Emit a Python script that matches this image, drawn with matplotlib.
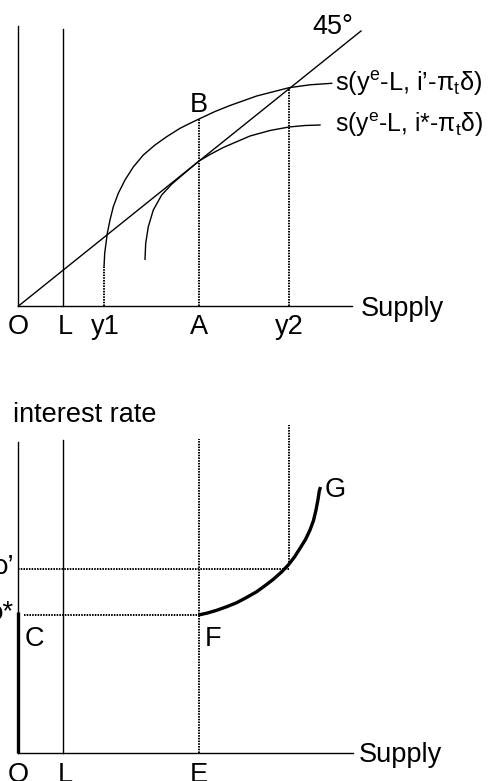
import matplotlib
matplotlib.use("Agg")
import matplotlib.pyplot as plt

plt.rcParams['font.family'] = ['Liberation Sans', 'DejaVu Sans']
plt.rcParams['mathtext.fontset'] = 'custom'
plt.rcParams['mathtext.rm'] = 'Liberation Sans'

# ---- top panel (savings vs supply), origin at O ----
diag_x = [0, 342.5]
diag_y = [0, 275]

# s(ye-L, i'-pi d)
s_hi_x = [85.5, 86.2, 87.5, 88.8, 91.5, 94.8, 99.8, 106.5, 114.8, 124.8, 136.5, 148.2, 161.5,
          171.5, 180.5, 196.5, 211.5, 238.2, 270.5, 291.5, 313.2]
s_hi_y = [39, 52.7, 62.7, 72.7, 86, 99.3, 112.7, 126, 139, 151, 161, 169.3, 177.7,
          182.7, 187, 194.5, 200.5, 210, 218.3, 221.2, 222.7]
# s(ye-L, i*-pi d)
s_lo_x = [126.5, 127.2, 129.8, 134.8, 143.2, 153.2, 164.8, 180.5, 191.5, 204.8, 231.5, 251.5, 270.5, 286.5, 301.5]
s_lo_y = [46.7, 62.7, 79.3, 96, 111, 121.8, 131.8, 145, 151.5, 158.5, 170, 175.5, 179, 180.5, 181]

L_pos = 44.5
y1_pos = 85.5
A_pos = 180.5
y2_pos = 270.5
B_top = 187
y2_top = 218.3
top_ticks = ['O', 'L', 'y1', 'A', 'y2']
top_tick_x = [0, 47, 86.5, 180.5, 270.5]

# ---- bottom panel (interest rate vs supply) ----
i_star = 138
i_prime = 184
E_pos = 180.5
supply_x = [180, 189, 198.2, 208, 218.2, 228, 238.2, 246.5, 254.8, 262.5, 269.8, 276, 281.5, 287, 291.5, 295, 297.5, 299.5, 300.8, 302]
supply_y = [138, 140, 142.7, 146.2, 150.3, 155.5, 161.3, 167.3, 173.7, 180.5, 188, 196, 204.7, 213.5, 223, 232.5, 243, 253.5, 262, 266]
bot_ticks = ['O', 'L', 'E']
bot_tick_x = [0, 47, 180.5]

fs = 19.5
thin = dict(color='black', lw=1.0)
dots = dict(color='black', lw=1.4, ls=(0, (0.8, 0.6)))

fig = plt.figure(figsize=(4.91, 7.81), dpi=100)
ax1 = fig.add_axes([0, 391 / 781, 1, 390 / 781])
ax2 = fig.add_axes([0, 0, 1, 391 / 781])
ax1.set_xlim(-18.5, 472.5)
ax1.set_ylim(306 - 390, 306)
ax2.set_xlim(-18.5, 472.5)
ax2.set_ylim(-28, 753 - 390)
for ax in (ax1, ax2):
    ax.axis('off')

# top panel
ax1.plot([0, 0], [0, 280], **thin)
ax1.plot([0, 333.5], [0, 0], **thin)
ax1.plot([L_pos, L_pos], [0, 277], **thin)
ax1.plot(diag_x, diag_y, **thin)
ax1.plot(s_hi_x, s_hi_y, **thin)
ax1.plot(s_lo_x, s_lo_y, **thin)
ax1.plot([y1_pos, y1_pos], [0, s_hi_y[0]], **dots)
ax1.plot([A_pos, A_pos], [0, B_top], **dots)
ax1.plot([y2_pos, y2_pos], [0, y2_top], **dots)

ax1.text(293.5, 272.5, '45°', fontsize=fs, va='baseline')
ax1.text(180.5, 194.5, 'B', fontsize=fs, ha='center', va='baseline')
lab_hi = ax1.text(317, 215, 's(y$^\\mathregular{e}$-L, i’-π$_\\mathregular{t}$δ)', fontsize=fs, va='baseline')
lab_lo = ax1.text(317, 174, 's(y$^\\mathregular{e}$-L, i*-π$_\\mathregular{t}$δ)', fontsize=fs, va='baseline')
ax1.text(342, -10, 'Supply', fontsize=fs, va='baseline')
for lab, x in zip(top_ticks, top_tick_x):
    ax1.text(x, -28, lab, fontsize=fs, ha='center', va='baseline')

# shrink the two curve labels so they fit like in the original (about 148 px wide)
fig.canvas.draw()
r = fig.canvas.get_renderer()
for t in (lab_hi, lab_lo):
    w = t.get_window_extent(r).width
    t.set_fontsize(fs * 148 / w)

# bottom panel
ax2.plot([0, 0], [0, 311], **thin)
ax2.plot([0, 334.5], [0, 0], **thin)
ax2.plot([L_pos, L_pos], [0, 313], **thin)
ax2.plot([E_pos, E_pos], [0, 314], **dots)
ax2.plot([y2_pos, y2_pos], [i_prime + 4, 328], **dots)
ax2.plot([0, y2_pos], [i_prime, i_prime], **dots)
ax2.plot([5.5, E_pos], [i_star, i_star], **dots)
ax2.plot([0, 0], [0, i_star + 3], color='black', lw=2.4, solid_capstyle='butt')
ax2.plot(supply_x, supply_y, color='black', lw=2.4, solid_capstyle='butt', solid_joinstyle='round')

ax2.text(-5.5, 331, 'interest rate', fontsize=fs, va='baseline')
ax2.text(-5.2, 179.5, 'ρ’', fontsize=fs, ha='right', va='baseline')
ax2.text(-5.2, 133, 'ρ*', fontsize=fs, ha='right', va='baseline')
ax2.text(6, 107, 'C', fontsize=fs, va='baseline')
ax2.text(186, 107, 'F', fontsize=fs, va='baseline')
ax2.text(306, 256, 'G', fontsize=fs, va='baseline')
ax2.text(340, -9, 'Supply', fontsize=fs, va='baseline')
for lab, x in zip(bot_ticks, bot_tick_x):
    ax2.text(x, -29, lab, fontsize=fs, ha='center', va='baseline')

fig.savefig('out.png', dpi=100)
